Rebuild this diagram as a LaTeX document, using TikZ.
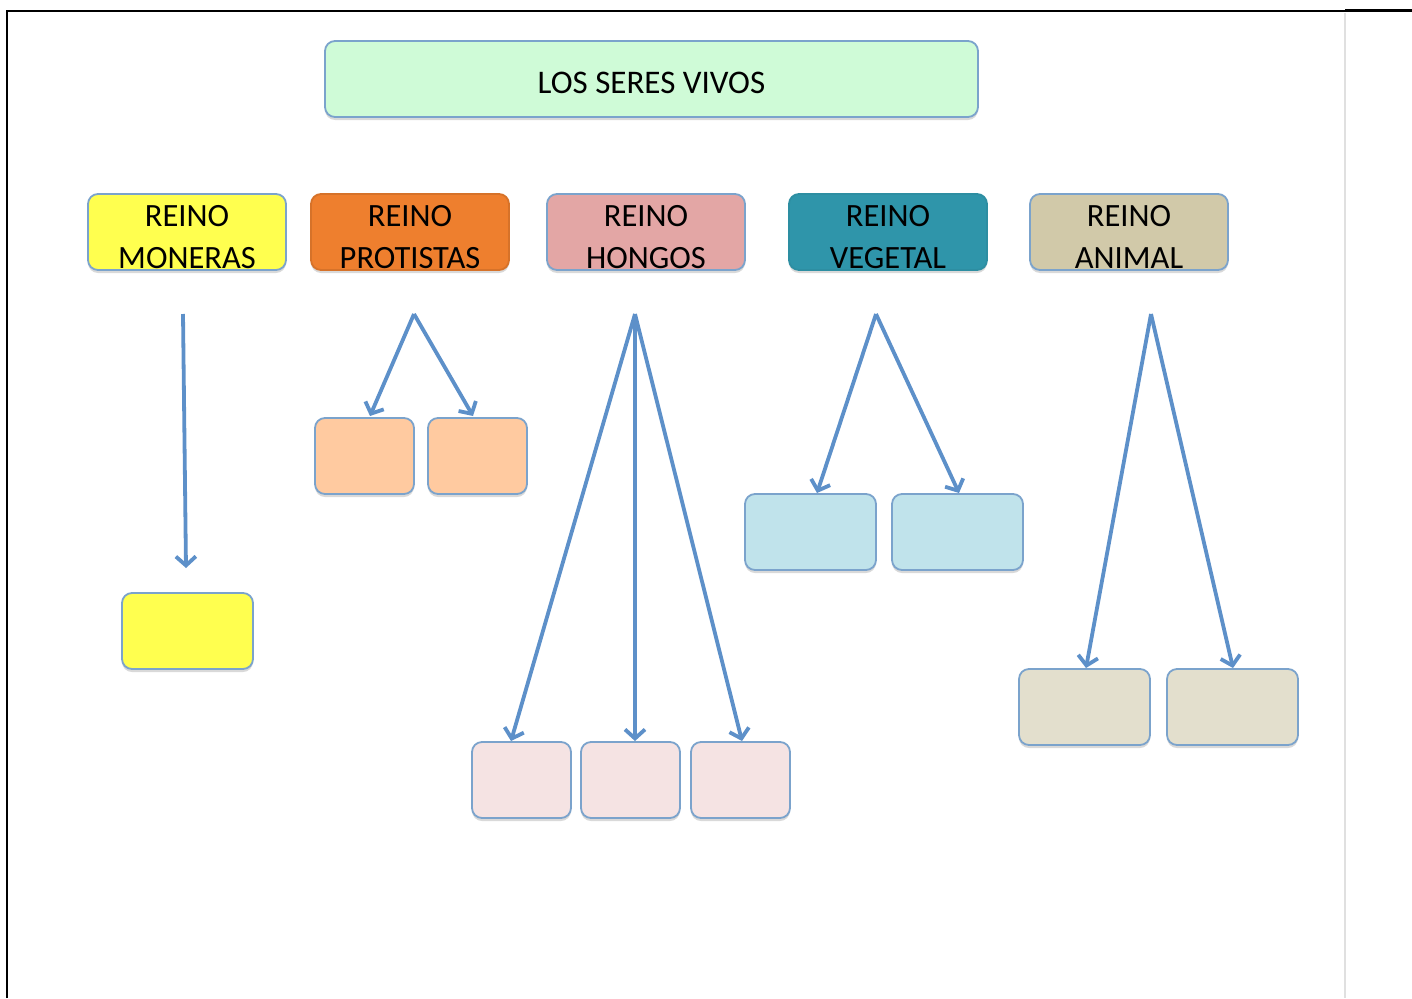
\documentclass[tikz,border=0pt]{standalone}
\usepackage{fontspec}
\setmainfont{Carlito}
\usetikzlibrary{arrows.meta,shadows}
\definecolor{bordblue}{HTML}{7BA3CC}
\definecolor{arrowblue}{HTML}{5D90C9}
\definecolor{mint}{HTML}{CFFBD7}
\definecolor{yel}{HTML}{FFFF4F}
\definecolor{ora}{HTML}{EE7F2E}
\definecolor{pnk}{HTML}{E3A6A5}
\definecolor{teal2}{HTML}{2F95AA}
\definecolor{tan2}{HTML}{D1C9A9}
\definecolor{peach}{HTML}{FFCAA0}
\definecolor{lpink}{HTML}{F5E3E3}
\definecolor{lblue}{HTML}{C0E3EB}
\definecolor{ltan}{HTML}{E3DFCD}
\newcommand{\toppad}[1]{\rule{0pt}{#1}}
\tikzset{
  box/.style={draw=bordblue, line width=1.8pt, rounded corners=10pt, inner sep=0pt,
    drop shadow={opacity=0.3, shadow xshift=0pt, shadow yshift=-3pt}},
  kbox/.style={box, minimum width=198pt, minimum height=76pt, align=center,
    font=\fontsize{32.5}{42}\selectfont},
  cbox/.style={box, minimum height=76pt},
  arr/.style={draw=arrowblue, line width=3.8pt, -{Straight Barb[length=9pt,width=20pt,line width=3.8pt]}},
  frame/.style={line width=2pt}
}
\begin{document}
\begin{tikzpicture}[x=1pt,y=-1pt]
\useasboundingbox (0,0) rectangle (1412,998);
% frame
\draw[frame] (7,998) -- (7,11) -- (1345,11);
\draw[line width=3pt] (1345,11) -- (1412,11);
\draw[line width=2pt, black!12] (1345,13) -- (1345,998);
% title
\node[box, fill=mint, minimum width=653pt, minimum height=76pt, font=\fontsize{33}{38}\selectfont] (title) at (651.5,79) {\toppad{29pt}LOS SERES VIVOS};
% kingdoms
\node[kbox, fill=yel] (mon) at (187,232) {\toppad{31pt}REINO\\MONERAS};
\node[kbox, fill=ora, draw=ora!90!black] (pro) at (410,232) {\toppad{31pt}REINO\\PROTISTAS};
\node[kbox, fill=pnk] (hon) at (646,232) {\toppad{31pt}REINO\\HONGOS};
\node[kbox, fill=teal2, draw=teal2!95!black] (veg) at (888,232) {\toppad{31pt}REINO\\VEGETAL};
\node[kbox, fill=tan2] (ani) at (1129,232) {\toppad{31pt}REINO\\ANIMAL};
% children
\node[cbox, fill=yel, minimum width=131pt] (mon1) at (187.5,631) {};
\node[cbox, fill=peach, minimum width=99pt] (pro1) at (364.5,456) {};
\node[cbox, fill=peach, minimum width=99pt] (pro2) at (477.5,456) {};
\node[cbox, fill=lpink, minimum width=99pt] (hon1) at (521.5,780) {};
\node[cbox, fill=lpink, minimum width=99pt] (hon2) at (630.5,780) {};
\node[cbox, fill=lpink, minimum width=99pt] (hon3) at (740.5,780) {};
\node[cbox, fill=lblue, minimum width=131pt] (veg1) at (810.5,532) {};
\node[cbox, fill=lblue, minimum width=131pt] (veg2) at (957.5,532) {};
\node[cbox, fill=ltan, minimum width=131pt] (ani1) at (1084.5,707) {};
\node[cbox, fill=ltan, minimum width=131pt] (ani2) at (1232.5,707) {};
% apex coordinates
\coordinate (amon) at (183,314);
\coordinate (apro) at (414,314);
\coordinate (ahon) at (635,314);
\coordinate (aveg) at (876,314);
\coordinate (aani) at (1151,314);
\coordinate (tmon) at (186,568);
\coordinate (tpro1) at (370,416);
\coordinate (tpro2) at (473,416);
\coordinate (thon1) at (511,741);
\coordinate (thon2) at (635,741);
\coordinate (thon3) at (742,741);
\coordinate (tveg1) at (817,493);
\coordinate (tveg2) at (959,493);
\coordinate (tani1) at (1086,668);
\coordinate (tani2) at (1233,668);
% arrows
\draw[arr] (amon) -- (tmon);
\draw[arr] (apro) -- (tpro1);
\draw[arr] (apro) -- (tpro2);
\draw[arr] (ahon) -- (thon1);
\draw[arr] (ahon) -- (thon2);
\draw[arr] (ahon) -- (thon3);
\draw[arr] (aveg) -- (tveg1);
\draw[arr] (aveg) -- (tveg2);
\draw[arr] (aani) -- (tani1);
\draw[arr] (aani) -- (tani2);
\end{tikzpicture}
\end{document}
